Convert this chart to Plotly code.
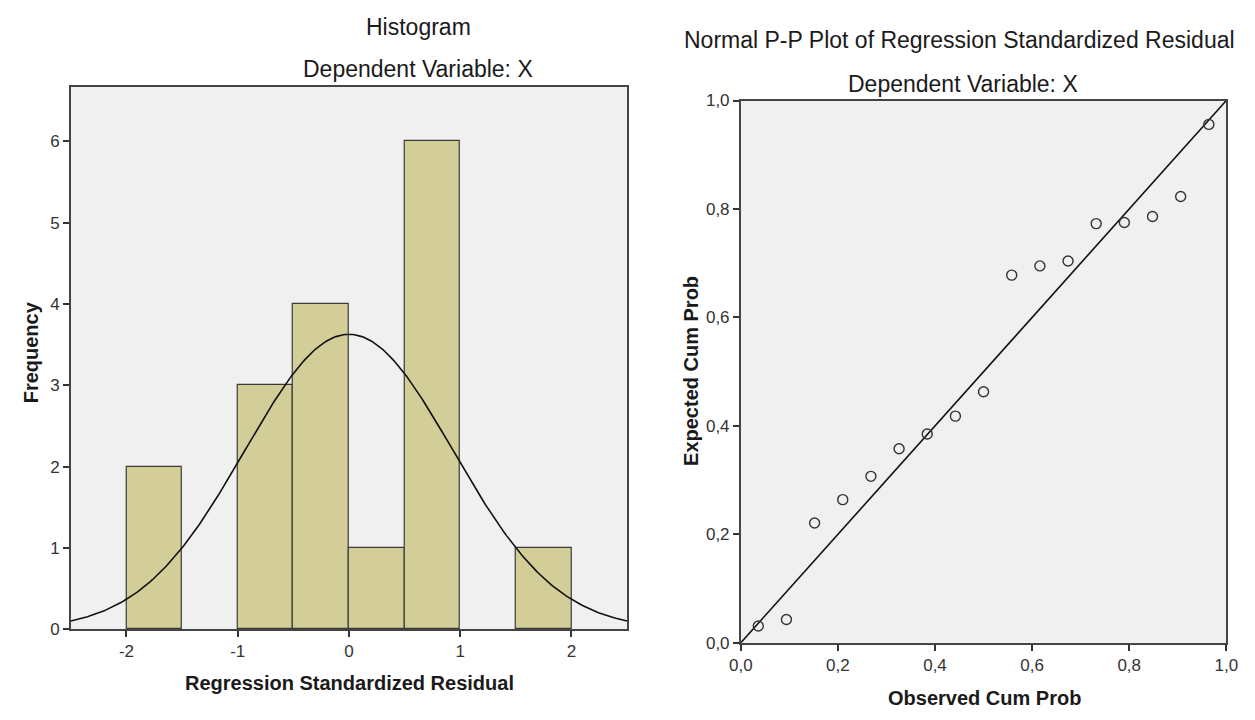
import numpy as np
import plotly.graph_objects as go

# ---------------- data ----------------
# Histogram of regression standardized residuals (bin width 0.5)
bin_centers = [-1.75, -0.75, -0.25, 0.25, 0.75, 1.75]
bin_counts = [2, 3, 4, 1, 6, 1]
bin_width = 0.5
resid_mean = 0.0
resid_sd = 0.935
n_obs = 17

hist_xticks = [-2, -1, 0, 1, 2]
hist_xticktext = ["-2", "-1", "0", "1", "2"]
hist_yticks = [0, 1, 2, 3, 4, 5, 6]

# Normal P-P plot
observed_cum_prob = [0.036, 0.094, 0.152, 0.210, 0.268, 0.326, 0.384, 0.442, 0.500,
                     0.558, 0.616, 0.674, 0.732, 0.790, 0.848, 0.906, 0.964]
expected_cum_prob = [0.031, 0.043, 0.221, 0.264, 0.307, 0.358, 0.385, 0.418, 0.463,
                     0.678, 0.695, 0.704, 0.773, 0.775, 0.786, 0.823, 0.956]
diag_ends = [0.0, 1.0]
pp_ticks = [0.0, 0.2, 0.4, 0.6, 0.8, 1.0]
pp_ticktext = ["0,0", "0,2", "0,4", "0,6", "0,8", "1,0"]

# ---------------- figure ----------------
W, H = 1255, 720
FONT = "Liberation Sans, Arial, sans-serif"
TICKFONT = "Liberation Sans Narrow, Arial Narrow, Liberation Sans, sans-serif"
TXT = "#1a1a1a"

def px(x):
    return x / W

def py(y):
    return 1 - y / H

# normal curve scaled to counts
xs = np.linspace(-2.5, 2.5, 301)
curve = n_obs * bin_width / (resid_sd * np.sqrt(2 * np.pi)) * np.exp(-0.5 * ((xs - resid_mean) / resid_sd) ** 2)

fig = go.Figure()
fig.add_trace(go.Bar(
    x=bin_centers, y=bin_counts, width=bin_width,
    marker=dict(color="#D3CE97", line=dict(color="#3a3a3a", width=1.2)),
    xaxis="x", yaxis="y", hoverinfo="x+y"))
fig.add_trace(go.Scatter(
    x=xs, y=curve, mode="lines", line=dict(color="#111111", width=1.6),
    xaxis="x", yaxis="y", hoverinfo="skip"))

fig.add_trace(go.Scatter(
    x=diag_ends, y=diag_ends, mode="lines", line=dict(color="#111111", width=1.6),
    xaxis="x2", yaxis="y2", hoverinfo="skip"))
fig.add_trace(go.Scatter(
    x=observed_cum_prob, y=expected_cum_prob, mode="markers",
    marker=dict(symbol="circle-open", size=10, color="#333333", line=dict(width=1.4)),
    xaxis="x2", yaxis="y2"))

axis_common = dict(
    showline=True, linecolor="#444444", linewidth=1.6, mirror=True,
    showgrid=False, zeroline=False, ticks="outside", ticklen=6, tickwidth=1.5,
    tickcolor="#333333", tickfont=dict(family=TICKFONT, size=17, color="#333333"),
)

fig.update_layout(
    width=W, height=H, margin=dict(l=0, r=0, t=0, b=0),
    paper_bgcolor="white", plot_bgcolor="#F0F0F0",
    showlegend=False, bargap=0,
    font=dict(family=FONT, color=TXT),
    xaxis=dict(domain=[px(60), px(627)], range=[-2.5, 2.5], tickvals=hist_xticks,
               ticktext=hist_xticktext, anchor="y", **axis_common),
    yaxis=dict(domain=[py(637), py(80)], range=[0, 6.67], tickvals=hist_yticks,
               anchor="x", **axis_common),
    xaxis2=dict(domain=[px(743), px(1238)], range=[0, 1], tickvals=pp_ticks,
                ticktext=pp_ticktext, anchor="y2", **axis_common),
    yaxis2=dict(domain=[py(651), py(94)], range=[0, 1], tickvals=pp_ticks,
                ticktext=pp_ticktext, anchor="x2", **axis_common),
)

def ann(text, x, y, size, bold=False, angle=0):
    fig.add_annotation(
        text=f"<b>{text}</b>" if bold else text,
        x=px(x), y=py(y), xref="paper", yref="paper",
        xanchor="center", yanchor="middle", showarrow=False, textangle=angle,
        font=dict(family=FONT, size=size, color=TXT))

ann("Histogram", 414, 18, 23)
ann("Dependent Variable: X", 414, 62, 23)
ann("Normal P-P Plot of Regression Standardized Residual", 966, 32, 23)
ann("Dependent Variable: X", 970, 77, 23)
ann("Regression Standardized Residual", 344, 692, 20, bold=True)
ann("Frequency", 19, 353, 20, bold=True, angle=-90)
ann("Observed Cum Prob", 991, 708, 20, bold=True)
ann("Expected Cum Prob", 692, 372, 20, bold=True, angle=-90)

fig.write_html("out.html")
